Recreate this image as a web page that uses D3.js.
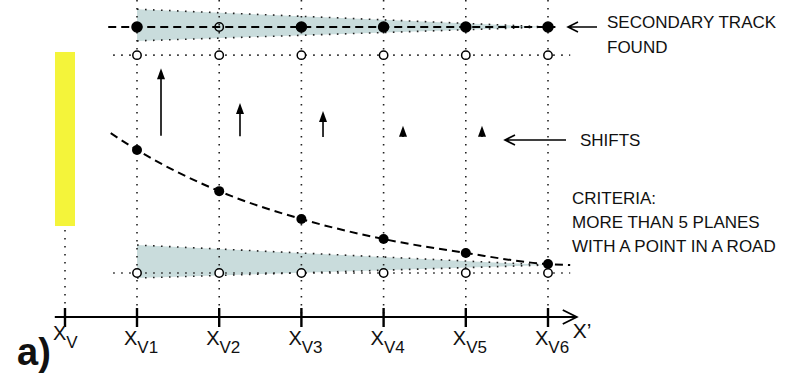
<!DOCTYPE html>
<html>
<head>
<meta charset="utf-8">
<script src="https://cdn.jsdelivr.net/npm/d3@7"></script>
<style>
  body { margin: 0; background: #fff; }
  text { font-family: "Liberation Sans", Arial, sans-serif; fill: #111; }
</style>
</head>
<body>
<div class="canvas"></div>
<script>
// planes along the beam axis (position in plane units)
const planes = ['V', 'V1', 'V2', 'V3', 'V4', 'V5', 'V6'];
const planePos = [0.124, 1, 2, 3, 4, 5, 6];

// heights above the axis (arbitrary units 0..100)
const secondaryTrack = [91.5, 91.5, 91.5, 91.5, 91.5, 91.5];
const secondaryFound = [true, false, true, true, true, true];
const upperRoad = 82.6;
const lowerRoad = 13.9;
const trackX = [0.68, 1, 2, 3, 4, 5, 6, 6.27];
const trackY = [58.0, 52.7, 39.7, 30.9, 24.6, 20.2, 16.7, 16.4];

// shifts between consecutive planes
const shiftPos = [1.292, 2.253, 3.263, 4.236, 5.197];
const shiftBase = [57.2, 57.0, 56.8, 56.8, 56.8];
const shiftLen = [21.3, 10.5, 8.2, 3.5, 3.5];

// road wedges: [x, top, bottom]
const upperWedge = [[1, 97.1, 87.1], [6, 91.5, 91.5]];
const lowerWedge = [[1, 22.7, 12.3], [6, 16.4, 16.4]];

// vertex detector (yellow) extent
const vertexBar = { top: 83.6, bottom: 28.7 };

const criteria = ['CRITERIA:', 'MORE THAN 5 PLANES', 'WITH A POINT IN A ROAD'];

const dims = { width: 797, height: 375 };

const svg = d3.select('.canvas')
  .append('svg')
  .attr('width', dims.width)
  .attr('height', dims.height);

const x = d3.scaleLinear().domain([0, 6]).range([54.8, 548]);
const y = d3.scaleLinear().domain([0, 100]).range([317, 0]);

const dotted = sel => sel.attr('stroke', '#222').attr('stroke-width', 1.6)
  .attr('stroke-dasharray', '1.6,6.4').attr('fill', 'none');

// yellow bar
svg.append('rect')
  .attr('x', x(planePos[0]) - 10)
  .attr('width', 20)
  .attr('y', y(vertexBar.top))
  .attr('height', y(vertexBar.bottom) - y(vertexBar.top))
  .attr('fill', '#f4f43a');

// wedges
const wedgePath = w => `M${x(w[0][0])},${y(w[0][1])} L${x(w[1][0])},${y(w[1][1])} L${x(w[0][0])},${y(w[0][2])} Z`;
[upperWedge, lowerWedge].forEach(w => {
  svg.append('path').attr('d', wedgePath(w)).attr('fill', '#c9dcdc');
  svg.append('path')
    .attr('d', `M${x(w[0][0])},${y(w[0][1])} L${x(w[1][0])},${y(w[1][1])} M${x(w[0][0])},${y(w[0][2])} L${x(w[1][0])},${y(w[1][2])}`)
    .call(dotted);
});

// vertical dotted plane lines
svg.selectAll('line.plane')
  .data(planePos)
  .enter().append('line')
  .attr('class', 'plane')
  .attr('x1', d => x(d)).attr('x2', d => x(d))
  .attr('y1', (d, i) => i === 0 ? y(vertexBar.bottom) + 4 : y(100))
  .attr('y2', y(0))
  .call(dotted);

// roads (dotted horizontals)
[upperRoad, lowerRoad].forEach(r => {
  svg.append('line')
    .attr('x1', x(0.71)).attr('x2', x(6.27))
    .attr('y1', y(r)).attr('y2', y(r))
    .call(dotted);
});

// secondary track dashed line
svg.append('line')
  .attr('x1', x(0.65)).attr('x2', x(6.09))
  .attr('y1', y(secondaryTrack[0])).attr('y2', y(secondaryTrack[5]))
  .attr('stroke', '#000').attr('stroke-width', 2).attr('stroke-dasharray', '8,5');

// main track dashed curve
const trackLine = d3.line().x(d => x(d[0])).y(d => y(d[1])).curve(d3.curveMonotoneX);
svg.append('path')
  .attr('d', trackLine(trackX.map((d, i) => [d, trackY[i]])))
  .attr('fill', 'none').attr('stroke', '#000').attr('stroke-width', 2)
  .attr('stroke-dasharray', '8,5');

// open circles on the roads
[upperRoad, lowerRoad].forEach(r => {
  svg.selectAll(null)
    .data(planePos.slice(1))
    .enter().append('circle')
    .attr('cx', d => x(d)).attr('cy', y(r)).attr('r', 4.2)
    .attr('fill', '#fff').attr('stroke', '#000').attr('stroke-width', 1.5);
});

// secondary track points
svg.selectAll(null)
  .data(secondaryTrack)
  .enter().append('circle')
  .attr('cx', (d, i) => x(planePos[i + 1])).attr('cy', d => y(d))
  .attr('r', (d, i) => secondaryFound[i] ? 5 : 4.2)
  .attr('fill', (d, i) => secondaryFound[i] ? '#000' : 'none')
  .attr('stroke', '#000').attr('stroke-width', 1.5);

// main track points
svg.selectAll(null)
  .data(trackY.slice(1, 7))
  .enter().append('circle')
  .attr('cx', (d, i) => x(planePos[i + 1])).attr('cy', d => y(d))
  .attr('r', 5).attr('fill', '#000');

// shift arrows: shaft + solid head (head is 11px tall, 8px wide)
const shifts = svg.selectAll('g.shift')
  .data(shiftLen)
  .enter().append('g')
  .attr('class', 'shift')
  .attr('transform', (d, i) => `translate(${x(shiftPos[i])},0)`);
shifts.filter(d => y(0) - y(d) > 11)
  .append('line')
  .attr('y1', (d, i, n) => y(shiftBase[shiftLen.indexOf(d)]))
  .attr('y2', (d) => y(shiftBase[shiftLen.indexOf(d)] + d) + 8)
  .attr('stroke', '#000').attr('stroke-width', 1.6);
shifts.append('path')
  .attr('d', (d, i) => {
    const tip = y(shiftBase[i] + d);
    return `M0,${tip} L4,${tip + 11} L-4,${tip + 11} Z`;
  })
  .attr('fill', '#000');

// axis
const axisY = y(0);
svg.append('line')
  .attr('x1', x(0)).attr('x2', x(6.35))
  .attr('y1', axisY).attr('y2', axisY)
  .attr('stroke', '#000').attr('stroke-width', 2);
svg.append('path')
  .attr('d', `M${x(6.35) - 14},${axisY - 7} L${x(6.35)},${axisY} L${x(6.35) - 14},${axisY + 7}`)
  .attr('fill', 'none').attr('stroke', '#000').attr('stroke-width', 1.8);
svg.selectAll('line.tick')
  .data(planePos)
  .enter().append('line')
  .attr('class', 'tick')
  .attr('x1', d => x(d)).attr('x2', d => x(d))
  .attr('y1', axisY - 9).attr('y2', axisY + 10)
  .attr('stroke', '#000').attr('stroke-width', 2.4);

const labels = svg.selectAll('text.tl')
  .data(planes)
  .enter().append('text')
  .attr('class', 'tl')
  .attr('x', (d, i) => x(planePos[i]) - (i === 0 ? 12 : 13))
  .attr('y', (d, i) => i === 0 ? 340 : 345)
  .attr('font-size', 20);
labels.append('tspan').text('X');
labels.append('tspan').attr('dy', 8).attr('font-size', 17).text(d => d);

svg.append('text').attr('x', x(6.35) - 4).attr('y', 338).attr('font-size', 21).text('X’');
svg.append('text').attr('x', 17).attr('y', 365)
  .attr('font-size', 38).attr('font-weight', 'bold').text('a)');

// annotation arrows (pointing left)
const leftArrow = (x1, x2, yy) => {
  svg.append('path')
    .attr('d', `M${x1},${yy} L${x2},${yy} M${x2 + 10},${yy - 5} L${x2},${yy} L${x2 + 10},${yy + 5}`)
    .attr('fill', 'none').attr('stroke', '#000').attr('stroke-width', 1.6);
};
leftArrow(597, 568, y(secondaryTrack[5]));
leftArrow(566, 505, 140);

svg.append('text').attr('x', 607).attr('y', 28).attr('font-size', 17).text('SECONDARY TRACK');
svg.append('text').attr('x', 607).attr('y', 53).attr('font-size', 17).text('FOUND');
svg.append('text').attr('x', 580).attr('y', 146).attr('font-size', 17).text('SHIFTS');

svg.selectAll('text.crit')
  .data(criteria)
  .enter().append('text')
  .attr('class', 'crit')
  .attr('x', 572).attr('y', (d, i) => 204 + i * 24)
  .attr('font-size', 17)
  .text(d => d);
</script>
</body>
</html>
